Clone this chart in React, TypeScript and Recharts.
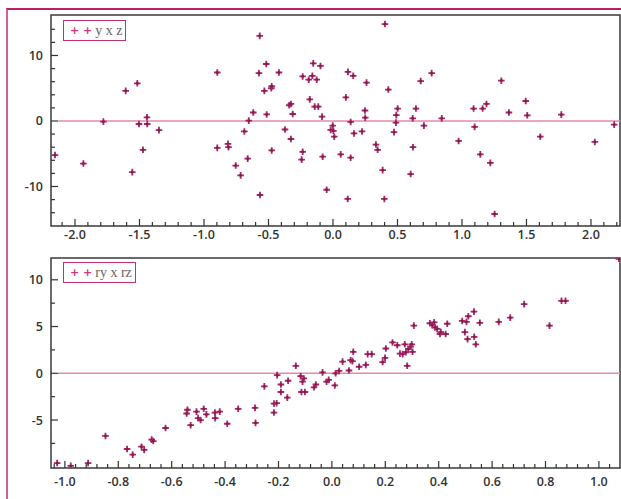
import React from "react";
import {
  ScatterChart,
  Scatter,
  XAxis,
  YAxis,
  ReferenceLine,
  ReferenceArea,
  Legend,
} from "recharts";

// ---------- Data ----------
const topX = [
  -2.155, -1.935, -1.78, -1.607, -1.517, -1.556, -1.504, -1.442, -1.44, -1.473,
  -1.349, -0.897, -0.897, -0.814, -0.81, -0.754, -0.716, -0.687, -0.653, -0.661,
  -0.618, -0.568, -0.574, -0.566, -0.532, -0.517, -0.514, -0.478, -0.475, -0.475,
  -0.419, -0.372, -0.339, -0.326, -0.326, -0.312, -0.235, -0.235, -0.243, -0.188,
  -0.18, -0.16, -0.153, -0.142, -0.126, -0.114, -0.097, -0.085, -0.08, -0.049,
  -0.018, -0.002, 0.003, 0.01, 0.06, 0.1, 0.116, 0.114, 0.137, 0.137,
  0.157, 0.163, 0.225, 0.248, 0.25, 0.26, 0.333, 0.346, 0.385, 0.398,
  0.403, 0.429, 0.473, 0.488, 0.491, 0.501, 0.602, 0.618, 0.62, 0.643,
  0.68, 0.705, 0.765, 0.843, 0.974, 1.09, 1.098, 1.142, 1.16, 1.19,
  1.22, 1.253, 1.305, 1.364, 1.494, 1.506, 1.607, 1.77, 2.03, 2.18,
];
const topY = [
  -5.2, -6.5, -0.1, 4.6, 5.75, -7.8, -0.46, 0.56, -0.46, -4.4,
  -1.4, 7.4, -4.1, -3.5, -4.0, -6.8, -8.3, -1.6, 0.05, -5.75,
  1.3, 13.0, 7.3, -11.3, 4.6, 8.7, 1.0, 5.0, 5.3, -4.5,
  7.4, -1.3, 2.4, 2.6, -2.75, 1.07, 6.8, -4.7, -5.9, 6.3,
  3.3, 6.9, 8.8, 2.2, 6.3, 2.2, 8.4, 0.66, -5.45, -10.5,
  -1.37, -0.7, -1.5, -2.4, -5.1, 3.6, 7.5, -11.9, -0.15, -5.6,
  6.9, -1.9, -1.6, 1.6, 0.5, 5.85, -3.6, -4.4, -7.5, -11.9,
  14.8, 4.8, -1.7, -0.25, 0.9, 1.9, -8.1, 0.4, -4.0, 1.9,
  6.1, -0.7, 7.3, 0.4, -3.05, 1.9, -0.9, -5.1, 1.9, 2.6,
  -6.4, -14.2, 6.15, 1.3, 3.05, 0.87, -2.4, 0.97, -3.2, -0.56,
];

const bottomX = [
  -1.029, -0.978, -0.913, -0.848, -0.767, -0.746, -0.713, -0.703, -0.675, -0.669,
  -0.623, -0.544, -0.541, -0.529, -0.507, -0.501, -0.492, -0.48, -0.47, -0.438,
  -0.437, -0.42, -0.392, -0.351, -0.288, -0.286, -0.253, -0.217, -0.217, -0.207,
  -0.205, -0.191, -0.191, -0.167, -0.164, -0.135, -0.117, -0.114, -0.11, -0.105,
  -0.101, -0.067, -0.06, -0.035, -0.02, -0.012, 0.011, 0.014, 0.027, 0.04,
  0.064, 0.07, 0.077, 0.08, 0.102, 0.127, 0.134, 0.149, 0.19, 0.199,
  0.202, 0.227, 0.245, 0.255, 0.265, 0.273, 0.277, 0.282, 0.286, 0.295,
  0.299, 0.302, 0.307, 0.367, 0.376, 0.383, 0.386, 0.394, 0.405, 0.408,
  0.426, 0.432, 0.488, 0.498, 0.504, 0.508, 0.511, 0.532, 0.533, 0.539,
  0.554, 0.625, 0.668, 0.72, 0.815, 0.86, 0.875, 1.075,
];
const bottomY = [
  -9.6, -9.9, -9.6, -6.7, -8.1, -8.7, -7.85, -8.2, -7.1, -7.25,
  -5.85, -4.3, -3.9, -5.55, -4.1, -4.8, -5.0, -3.8, -4.4, -4.2,
  -4.8, -4.1, -5.4, -3.8, -3.7, -5.3, -1.4, -3.25, -4.2, -3.2,
  -0.2, -1.2, -2.0, -2.6, -0.8, 0.8, -0.3, -2.0, -0.9, -0.55,
  -2.0, -1.5, -1.2, 0.1, -0.9, -0.7, -1.3, 0.0, 0.25, 1.25,
  0.3, 1.4, 1.3, 2.3, 0.7, 0.9, 2.05, 2.05, 1.2, 1.65,
  2.65, 3.3, 3.0, 2.1, 2.05, 3.1, 2.25, 0.8, 2.6, 2.85,
  3.1, 2.3, 5.1, 5.35, 5.15, 5.45, 4.9, 4.75, 4.2, 4.4,
  4.2, 5.3, 5.6, 4.4, 5.5, 3.65, 6.1, 6.6, 3.9, 3.1,
  5.4, 5.5, 5.95, 7.4, 5.1, 7.75, 7.75, 12.25,
];

const topXMajor = [-2.0, -1.5, -1.0, -0.5, 0.0, 0.5, 1.0, 1.5, 2.0];
const topYMajor = [-10, 0, 10];
const bottomXMajor = [-1.0, -0.8, -0.6, -0.4, -0.2, 0.0, 0.2, 0.4, 0.6, 0.8, 1.0];
const bottomYMajor = [-5, 0, 5, 10];

const topLegend = "y x z";
const bottomLegend = "ry x rz";

// ---------- Helpers ----------
const range = (from: number, to: number, step: number) => {
  const out: number[] = [];
  const n = Math.round((to - from) / step);
  for (let i = 0; i <= n; i++) out.push(+(from + i * step).toFixed(4));
  return out;
};

const topXTicks = range(-2.1, 2.2, 0.1);
const topYTicks = range(-14, 14, 2);
const bottomXTicks = range(-1.04, 1.04, 0.04);
const bottomYTicks = range(-7.5, 10, 2.5);

const topData = topX.map((x, i) => ({ x, y: topY[i] }));
const bottomData = bottomX.map((x, i) => ({ x, y: bottomY[i] }));

const isMajor = (majors: number[], v: number) =>
  majors.some((m) => Math.abs(m - v) < 1e-6);

const TICK_COLOR = "#333";
const LABEL_FONT = "'Open Sans', 'DejaVu Sans', sans-serif";

const makeXTick =
  (majors: number[], fmt: (v: number) => string, labelDy: number) =>
  (props: any) => {
    const { x, y, payload } = props;
    const v = payload.value;
    const major = isMajor(majors, v);
    return (
      <g>
        <line
          x1={x}
          x2={x}
          y1={y}
          y2={y - (major ? 7 : 4)}
          stroke={TICK_COLOR}
          strokeWidth={1.2}
        />
        {major && (
          <text
            x={x}
            y={y + labelDy}
            textAnchor="middle"
            fill="#333"
            fontSize={12.5}
            fontWeight={600}
            fontFamily={LABEL_FONT}
          >
            {fmt(v)}
          </text>
        )}
      </g>
    );
  };

const makeYTick = (majors: number[]) => (props: any) => {
  const { x, y, payload } = props;
  const v = payload.value;
  const major = isMajor(majors, v);
  return (
    <g>
      <line
        x1={x}
        x2={x + (major ? 7 : 4)}
        y1={y}
        y2={y}
        stroke={TICK_COLOR}
        strokeWidth={1.2}
      />
      {major && (
        <text
          x={x - 8}
          y={y}
          dy="0.36em"
          textAnchor="end"
          fill="#333"
          fontSize={12.5}
          fontWeight={600}
          fontFamily={LABEL_FONT}
        >
          {String(v)}
        </text>
      )}
    </g>
  );
};

const PlusMarker = (props: any) => {
  const { cx, cy } = props;
  if (cx == null || cy == null) return <g />;
  const r = 3.3;
  return (
    <g>
      <path
        d={`M${cx - r},${cy}H${cx + r}M${cx},${cy - r}V${cy + r}`}
        stroke="#a52a66"
        strokeWidth={1.8}
        fill="none"
      />
      <rect x={cx - 1.2} y={cy - 1.2} width={2.4} height={2.4} fill="#8a1850" />
    </g>
  );
};

const LegendBox = ({ label, width }: { label: string; width: number }) => (
  <div
    style={{
      boxSizing: "border-box",
      width,
      height: 21,
      border: "1.5px solid #c2306d",
      background: "#fff",
      display: "flex",
      alignItems: "center",
      paddingLeft: 6,
      whiteSpace: "nowrap",
    }}
  >
    <span
      style={{
        color: "#d4357a",
        fontFamily: "'DejaVu Sans', sans-serif",
        fontWeight: 700,
        fontSize: 11,
        marginRight: 3,
      }}
    >
      + +
    </span>
    <span
      style={{
        color: "#666",
        fontFamily: "'Liberation Serif', 'DejaVu Serif', serif",
        fontSize: 14,
      }}
    >
      {label}
    </span>
  </div>
);

const topXDomain: [number, number] = [-2.186, 2.225];
const topYDomain: [number, number] = [-16.03, 16.18];
const bottomXDomain: [number, number] = [-1.052, 1.079];
const bottomYDomain: [number, number] = [-10.13, 12.33];

export default function App() {
  return (
    <div
      style={{
        position: "absolute",
        left: 0,
        top: 0,
        width: 621,
        height: 499,
        background: "#fff",
        overflow: "hidden",
      }}
    >
      {/* outer decorative frame */}
      <div
        style={{
          position: "absolute",
          left: 6,
          top: 8,
          width: 620,
          height: 500,
          borderTop: "2px solid #b8215e",
          borderLeft: "2px solid #d0609a",
          boxSizing: "border-box",
        }}
      />
      <div style={{ position: "absolute", left: 0, top: 0 }}>
        <ScatterChart
          width={621}
          height={245}
          margin={{ top: 15, right: 1, bottom: 0, left: 0 }}
        >
          <XAxis
            type="number"
            dataKey="x"
            domain={topXDomain}
            allowDataOverflow
            ticks={topXTicks}
            interval={0}
            height={19}
            tickSize={0}
            tickMargin={0}
            tickLine={false}
            axisLine={false}
            tick={makeXTick(topXMajor, (v) => v.toFixed(1), 13)}
          />
          <YAxis
            type="number"
            dataKey="y"
            domain={topYDomain}
            allowDataOverflow
            ticks={topYTicks}
            interval={0}
            width={51}
            tickSize={0}
            tickMargin={0}
            tickLine={false}
            axisLine={false}
            tick={makeYTick(topYMajor)}
          />
          <ReferenceArea
            x1={topXDomain[0]}
            x2={topXDomain[1]}
            y1={topYDomain[0]}
            y2={topYDomain[1]}
            fill="none"
            stroke="#3a3a3a"
            strokeWidth={1.5}
            fillOpacity={0}
            strokeOpacity={1}
          />
          <ReferenceLine
            segment={[
              { x: -2.13, y: 0 },
              { x: topXDomain[1], y: 0 },
            ]}
            stroke="#e48aae"
            strokeWidth={1.5}
          />
          <Scatter
            data={topData}
            shape={PlusMarker}
            isAnimationActive={false}
          />
          <Legend
            layout="horizontal"
            verticalAlign="middle"
            align="center"
            wrapperStyle={{ left: 63, top: 20, width: "auto", height: "auto" }}
            content={() => <LegendBox label={topLegend} width={63} />}
          />
        </ScatterChart>
      </div>
      <div style={{ position: "absolute", left: 0, top: 245 }}>
        <ScatterChart
          width={621}
          height={254}
          margin={{ top: 13, right: 1, bottom: 0, left: 0 }}
        >
          <XAxis
            type="number"
            dataKey="x"
            domain={bottomXDomain}
            allowDataOverflow
            ticks={bottomXTicks}
            interval={0}
            height={31}
            tickSize={0}
            tickMargin={0}
            tickLine={false}
            axisLine={false}
            tick={makeXTick(bottomXMajor, (v) => v.toFixed(1), 18)}
          />
          <YAxis
            type="number"
            dataKey="y"
            domain={bottomYDomain}
            allowDataOverflow
            ticks={bottomYTicks}
            interval={0}
            width={51}
            tickSize={0}
            tickMargin={0}
            tickLine={false}
            axisLine={false}
            tick={makeYTick(bottomYMajor)}
          />
          <ReferenceArea
            x1={bottomXDomain[0]}
            x2={bottomXDomain[1]}
            y1={bottomYDomain[0]}
            y2={bottomYDomain[1]}
            fill="none"
            stroke="#3a3a3a"
            strokeWidth={1.5}
            fillOpacity={0}
            strokeOpacity={1}
          />
          <ReferenceLine
            segment={[
              { x: -1.026, y: 0 },
              { x: bottomXDomain[1], y: 0 },
            ]}
            stroke="#e48aae"
            strokeWidth={1.5}
          />
          <Scatter
            data={bottomData}
            shape={PlusMarker}
            isAnimationActive={false}
          />
          <Legend
            layout="horizontal"
            verticalAlign="middle"
            align="center"
            wrapperStyle={{ left: 63, top: 17, width: "auto", height: "auto" }}
            content={() => <LegendBox label={bottomLegend} width={73} />}
          />
        </ScatterChart>
      </div>
    </div>
  );
}
